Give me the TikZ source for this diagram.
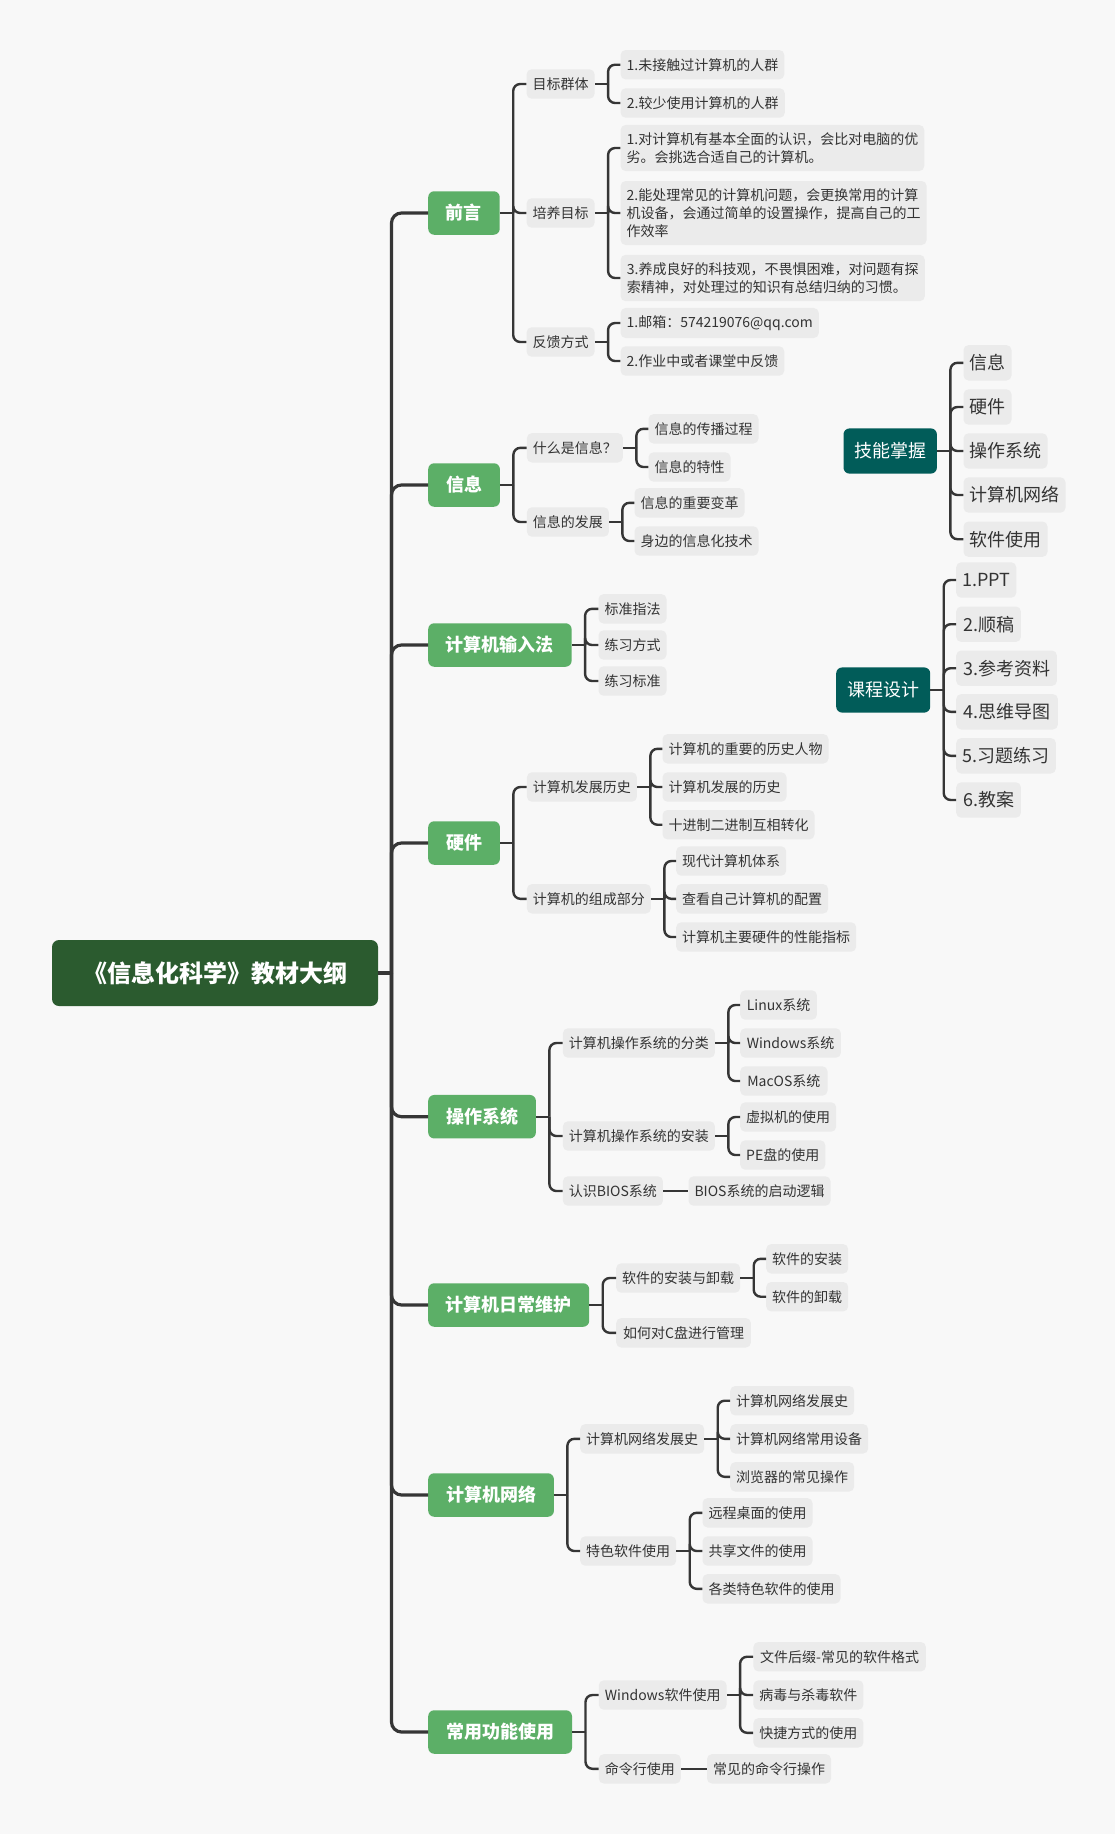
\documentclass[tikz,border=0pt]{standalone}
\usepackage{fontspec}
\setmainfont{Noto Sans CJK SC}
\newfontfamily\cjk{Noto Sans CJK SC}
\definecolor{bgc}{HTML}{F8F8F8}
\definecolor{boxc}{HTML}{EBEBEB}
\definecolor{txtc}{HTML}{333333}
\definecolor{linec}{HTML}{363636}
\definecolor{greenc}{HTML}{5CAF67}
\definecolor{rootc}{HTML}{2B5B2F}
\definecolor{tealc}{HTML}{015C59}
\tikzset{
  topic/.style={anchor=west, fill=boxc, text=txtc, rounded corners=5,
    inner xsep=6, inner ysep=7.5, minimum height=29.4,
    font=\cjk\fontsize{14}{18}\selectfont, align=left},
  bigtopic/.style={topic, minimum height=35.4, font=\cjk\fontsize{18}{22}\selectfont},
  mainbox/.style={anchor=west, fill=greenc, text=white, rounded corners=6,
    inner xsep=17.5, minimum height=43.5, font=\cjk\bfseries\fontsize{18}{22}\selectfont},
  sidebox/.style={anchor=west, fill=tealc, text=white, rounded corners=6,
    inner xsep=10.5, minimum height=45.2, font=\cjk\fontsize{18}{22}\selectfont},
  rootbox/.style={fill=rootc, text=white, rounded corners=7,
    minimum width=326, minimum height=66, font=\cjk\bfseries\fontsize{24}{29}\selectfont},
  link/.style={draw=linec, line width=2.4, rounded corners=7},
  trunk/.style={draw=linec, line width=3.2, rounded corners=10},
}
\begin{document}
\begin{tikzpicture}[x=1pt,y=-1pt]
\fill[bgc] (0,0) rectangle (1115,1834);
\useasboundingbox (0,0) rectangle (1115,1834);

% central topic
\node[rootbox] (root) at (215,973) {《信息化科学》教材大纲};

% main branches
\node[mainbox, minimum width=71.5]  (m1) at (428,213)    {前言};
\node[mainbox, minimum width=71.7]  (m2) at (428,485)    {信息};
\node[mainbox, minimum width=143.4] (m3) at (428,645)    {计算机输入法};
\node[mainbox, minimum width=71.7]  (m4) at (428,843)    {硬件};
\node[mainbox, minimum width=107.7] (m5) at (428,1116.7) {操作系统};
\node[mainbox, minimum width=161]   (m6) at (428,1305)   {计算机日常维护};
\node[mainbox, minimum width=125.7] (m7) at (428,1495)   {计算机网络};
\node[mainbox, minimum width=143.8] (m8) at (428,1732)   {常用功能使用};

% 前言
\node[topic, minimum width=66.8] (a1) at (526.4,84)  {目标群体};
\node[topic, minimum width=66.8] (a2) at (526.4,213) {培养目标};
\node[topic, minimum width=66.8] (a3) at (526.4,342) {反馈方式};
\node[topic, minimum width=161.4] (a11) at (620.4,64.7) {1.未接触过计算机的人群};
\node[topic, minimum width=164.2] (a12) at (620.4,103)  {2.较少使用计算机的人群};
\node[topic, minimum width=301.4] (a21) at (620.4,148)
  {1.对计算机有基本全面的认识，会比对电脑的优\\劣。会挑选合适自己的计算机。};
\node[topic, minimum width=305.3] (a22) at (620.4,213)
  {2.能处理常见的计算机问题，会更换常用的计算\\机设备，会通过简单的设置操作，提高自己的工\\作效率};
\node[topic, minimum width=304.2] (a23) at (620.4,278)
  {3.养成良好的科技观，不畏惧困难，对问题有探\\索精神，对处理过的知识有总结归纳的习惯。};
\node[topic, minimum width=195.3] (a31) at (620.4,323) {1.邮箱：574219076@qq.com};
\node[topic, minimum width=162.6] (a32) at (620.4,361) {2.作业中或者课堂中反馈};

% 信息
\node[topic, minimum width=95] (b1) at (526.7,447.8) {什么是信息？};
\node[topic, minimum width=81] (b2) at (526.7,522)   {信息的发展};
\node[topic, minimum width=109.4] (b11) at (648.3,428.8) {信息的传播过程};
\node[topic, minimum width=81]    (b12) at (648.3,467)   {信息的特性};
\node[topic, minimum width=109]   (b21) at (634.3,502.8) {信息的重要变革};
\node[topic, minimum width=123.4] (b22) at (634.3,541)   {身边的信息化技术};

% 计算机输入法
\node[topic, minimum width=67.4] (c1) at (598.3,608.8) {标准指法};
\node[topic, minimum width=67.4] (c2) at (598.3,645)   {练习方式};
\node[topic, minimum width=67.4] (c3) at (598.3,681)   {练习标准};

% 硬件
\node[topic, minimum width=109]   (d1) at (526.7,787)   {计算机发展历史};
\node[topic, minimum width=122.6] (d2) at (526.7,898.8) {计算机的组成部分};
\node[topic, minimum width=165]   (d11) at (662.3,748.8) {计算机的重要的历史人物};
\node[topic, minimum width=122.7] (d12) at (662.3,787)   {计算机发展的历史};
\node[topic, minimum width=151]   (d13) at (662.3,824.7) {十进制二进制互相转化};
\node[topic, minimum width=109]   (d21) at (676,861)     {现代计算机体系};
\node[topic, minimum width=151.3] (d22) at (676,898.8)   {查看自己计算机的配置};
\node[topic, minimum width=179]   (d23) at (676,937)     {计算机主要硬件的性能指标};

% 操作系统
\node[topic, minimum width=150.6] (e1) at (562.7,1043) {计算机操作系统的分类};
\node[topic, minimum width=150.6] (e2) at (562.7,1136) {计算机操作系统的安装};
\node[topic, minimum width=99]    (e3) at (562.7,1191) {认识BIOS系统};
\node[topic, minimum width=76.7]  (e11) at (740,1005) {Linux系统};
\node[topic, minimum width=100.7] (e12) at (740,1043) {Windows系统};
\node[topic, minimum width=87.3]  (e13) at (740,1081) {MacOS系统};
\node[topic, minimum width=95.7]  (e21) at (740,1117) {虚拟机的使用};
\node[topic, minimum width=84.3]  (e22) at (740,1155) {PE盘的使用};
\node[topic, minimum width=141.7] (e31) at (688.3,1191) {BIOS系统的启动逻辑};

% 计算机日常维护
\node[topic, minimum width=124]   (f1) at (616,1278)   {软件的安装与卸载};
\node[topic, minimum width=134.7] (f2) at (616,1332.8) {如何对C盘进行管理};
\node[topic, minimum width=81.7]  (f11) at (766,1258.8) {软件的安装};
\node[topic, minimum width=81.7]  (f12) at (766,1296.7) {软件的卸载};

% 计算机网络
\node[topic, minimum width=124] (g1) at (580,1438.8) {计算机网络发展史};
\node[topic, minimum width=96]  (g2) at (580,1551)   {特色软件使用};
\node[topic, minimum width=123.3] (g11) at (730,1400.7) {计算机网络发展史};
\node[topic, minimum width=137.7] (g12) at (730,1438.8) {计算机网络常用设备};
\node[topic, minimum width=123.3] (g13) at (730,1476.8) {浏览器的常见操作};
\node[topic, minimum width=109.4] (g21) at (702.3,1512.8) {远程桌面的使用};
\node[topic, minimum width=109.4] (g22) at (702.3,1551)   {共享文件的使用};
\node[topic, minimum width=137]   (g23) at (702.3,1588.8) {各类特色软件的使用};

% 常用功能使用
\node[topic, minimum width=127.8] (h1) at (598.6,1695)   {Windows软件使用};
\node[topic, minimum width=80.7]  (h2) at (598.6,1768.8) {命令行使用};
\node[topic, minimum width=172.5] (h11) at (753.2,1656.7) {文件后缀-常见的软件格式};
\node[topic, minimum width=108.8] (h12) at (753.2,1695)   {病毒与杀毒软件};
\node[topic, minimum width=108.8] (h13) at (753.2,1732.8) {快捷方式的使用};
\node[topic, minimum width=122.2] (h21) at (706.8,1768.8) {常见的命令行操作};

% floating topic: 技能掌握
\node[sidebox, minimum width=93.4] (s) at (843.3,451) {技能掌握};
\node[bigtopic, minimum width=47.4]  (s1) at (963.3,362.8) {信息};
\node[bigtopic, minimum width=42.4]  (s2) at (963.3,407)   {硬件};
\node[bigtopic, minimum width=83.4]  (s3) at (963.3,451)   {操作系统};
\node[bigtopic, minimum width=101.7] (s4) at (963.3,495)   {计算机网络};
\node[bigtopic, minimum width=83.4]  (s5) at (963.3,539.2) {软件使用};

% floating topic: 课程设计
\node[sidebox, minimum width=94] (k) at (836,690) {课程设计};
\node[bigtopic, minimum width=56.7]  (k1) at (956,580)   {1.PPT};
\node[bigtopic, minimum width=64.7]  (k2) at (956,624.2) {2.顺稿};
\node[bigtopic, minimum width=100.7] (k3) at (956,668.2) {3.参考资料};
\node[bigtopic, minimum width=101.7] (k4) at (956,711.8) {4.思维导图};
\node[bigtopic, minimum width=99.7]  (k5) at (956,755.8) {5.习题练习};
\node[bigtopic, minimum width=64.7]  (k6) at (956,800)   {6.教案};

% trunk from the central topic
\draw[trunk] (root.east) -- ++(13.3,0) coordinate (rt);
\foreach \m in {m1,m2,m3,m4,m5,m6,m7,m8} \draw[trunk] (rt) |- (\m.west);

% branch connectors: stub from parent, then one elbow per child
\newcommand\fork[2]{%
  \draw[link] (#1.east) -- ++(13.3,0) coordinate (#1-j);
  \foreach \c in {#2} \draw[link] (#1-j) |- (\c.west);}
\fork{m1}{a1,a2,a3}
\fork{a1}{a11,a12}
\fork{a2}{a21,a22,a23}
\fork{a3}{a31,a32}
\fork{m2}{b1,b2}
\fork{b1}{b11,b12}
\fork{b2}{b21,b22}
\fork{m3}{c1,c2,c3}
\fork{m4}{d1,d2}
\fork{d1}{d11,d12,d13}
\fork{d2}{d21,d22,d23}
\fork{m5}{e1,e2,e3}
\fork{e1}{e11,e12,e13}
\fork{e2}{e21,e22}
\draw[link] (e3.east) -- (e31.west);
\fork{m6}{f1,f2}
\fork{f1}{f11,f12}
\fork{m7}{g1,g2}
\fork{g1}{g11,g12,g13}
\fork{g2}{g21,g22,g23}
\fork{m8}{h1,h2}
\fork{h1}{h11,h12,h13}
\draw[link] (h2.east) -- (h21.west);
\fork{s}{s1,s2,s3,s4,s5}
\fork{k}{k1,k2,k3,k4,k5,k6}
\end{tikzpicture}
\end{document}
